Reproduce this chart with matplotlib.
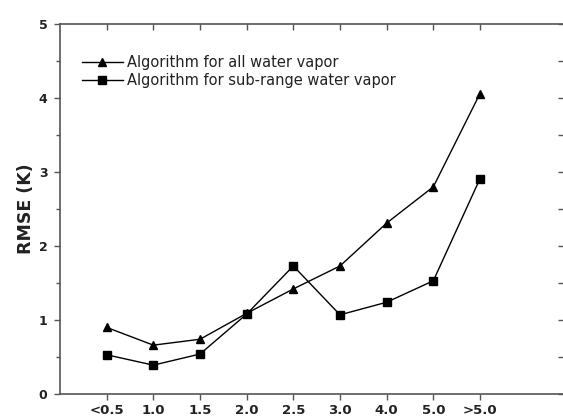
import matplotlib
matplotlib.use("Agg")
import matplotlib.pyplot as plt
import numpy as np

categories = ["<0.5", "1.0", "1.5", "2.0", "2.5", "3.0", "4.0", "5.0", ">5.0"]
all_wv = [0.90, 0.66, 0.74, 1.09, 1.42, 1.73, 2.31, 2.80, 4.06]
sub_wv = [0.53, 0.39, 0.54, 1.08, 1.73, 1.07, 1.24, 1.53, 2.91]
labels = ["Algorithm for all water vapor", "Algorithm for sub-range water vapor"]

plt.rcParams['font.family'] = ['DejaVu Sans']

fig = plt.figure(figsize=(5.63, 4.18), dpi=100)
ax = fig.add_axes([60/563, 24/418, 504/563, 370/418])
x = np.arange(len(categories))
ax.plot(x, all_wv, '-^', color='black', lw=1.0, ms=6, label=labels[0])
ax.plot(x, sub_wv, '-s', color='black', lw=1.0, ms=5.3, label=labels[1])

ax.set_xlim(-1, 9.8)
ax.set_ylim(0, 5)
ax.set_xticks(x)
ax.set_xticklabels(categories, fontsize=9.5, fontweight='bold', color='#222222')
ax.set_yticks([0, 1, 2, 3, 4, 5])
ax.set_yticks(np.arange(0.5, 5, 1), minor=True)
ax.set_yticklabels(['0', '1', '2', '3', '4', '5'], fontsize=9, fontweight='bold', color='#222222')
ax.tick_params(axis='both', which='major', direction='out', length=4, width=1, color='#555555', pad=5)
ax.tick_params(axis='x', which='major', pad=3)
ax.tick_params(axis='y', which='minor', direction='out', length=3, width=1, color='#555555')
for s in ax.spines.values():
    s.set_color('#555555')
    s.set_linewidth(1.2)

# mirrored inward ticks on top and right
top = ax.secondary_xaxis('top')
top.set_xticks(x)
top.set_xticklabels([])
top.tick_params(direction='in', length=4, width=1, color='#555555')
top.spines['top'].set_visible(False)
right = ax.secondary_yaxis('right')
right.set_yticks(np.arange(0, 5.01, 0.5))
right.set_yticklabels([])
right.tick_params(direction='in', length=4, width=1, color='#555555')
right.spines['right'].set_visible(False)

ax.set_ylabel("RMSE (K)", fontsize=12.5, fontweight='bold', labelpad=3, color='#222222')

leg = ax.legend(loc='upper left', bbox_to_anchor=(0.032, 0.933), frameon=False,
                fontsize=10.5, handlelength=2.8, handletextpad=0.3, labelspacing=0.25,
                borderaxespad=0)
for t in leg.get_texts():
    t.set_color('#222222')

fig.savefig("out.png", dpi=100)
